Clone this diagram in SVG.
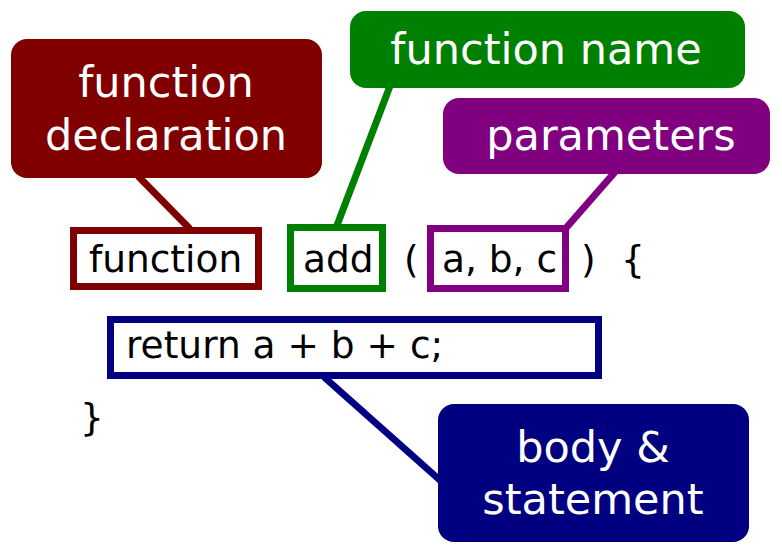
<svg xmlns="http://www.w3.org/2000/svg" width="782" height="554" viewBox="0 0 782 554">
<style>
.lbl{font-family:"DejaVu Sans",sans-serif;font-size:43px;fill:#fff;text-anchor:middle}
.code{font-family:"DejaVu Sans",sans-serif;font-size:37.5px;fill:#000}
.box{fill:#fff;stroke-width:7}
.con{stroke-width:7;fill:none}
</style>
<rect width="782" height="554" fill="#fff"/>
<g id="connectors">
<line class="con" x1="138" y1="176" x2="190" y2="229" stroke="#800000"/>
<line class="con" x1="390" y1="86" x2="336" y2="228" stroke="#008000"/>
<line class="con" x1="615" y1="172" x2="566" y2="228" stroke="#800080"/>
<line class="con" x1="324" y1="377" x2="442" y2="482" stroke="#000080"/>
</g>
<g id="decl">
<rect x="11" y="39" width="311" height="139" rx="16" fill="#800000"/>
<text class="lbl" x="166" y="97">function</text>
<text class="lbl" x="166" y="150">declaration</text>
</g>
<g id="fname">
<rect x="350" y="11" width="395" height="77" rx="16" fill="#008000"/>
<text class="lbl" x="546" y="64">function name</text>
</g>
<g id="params">
<rect x="443" y="98" width="327" height="76" rx="16" fill="#800080"/>
<text class="lbl" x="611" y="150">parameters</text>
</g>
<g id="body">
<rect x="438" y="404" width="311" height="138" rx="16" fill="#000080"/>
<text class="lbl" x="593" y="462">body &amp;</text>
<text class="lbl" x="593" y="514">statement</text>
</g>
<g id="kw">
<rect class="box" x="73.5" y="230.5" width="185" height="56" stroke="#800000"/>
<text class="code" x="89" y="272">function</text>
</g>
<g id="name">
<rect class="box" x="290.5" y="227.5" width="92" height="61" stroke="#008000"/>
<text class="code" x="303" y="272">add</text>
</g>
<text class="code" x="404" y="272">(</text>
<g id="args">
<rect class="box" x="430.5" y="228.5" width="135" height="60" stroke="#800080"/>
<text class="code" x="442" y="272">a, b, c</text>
</g>
<text class="code" x="581" y="272">)</text>
<text class="code" x="621" y="272">{</text>
<g id="ret">
<rect class="box" x="110.5" y="319.5" width="488" height="56" stroke="#000080"/>
<text class="code" x="126" y="358">return a + b + c;</text>
</g>
<text class="code" x="80" y="430">}</text>
</svg>
